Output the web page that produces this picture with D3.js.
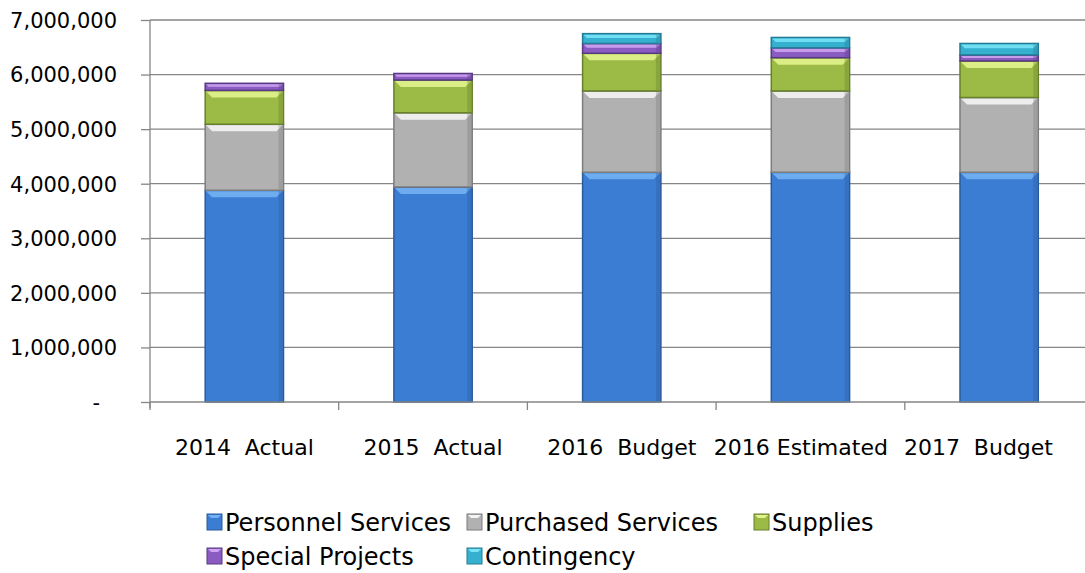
<!DOCTYPE html>
<html>
<head>
<meta charset="utf-8">
<script src="https://cdn.jsdelivr.net/npm/d3@7"></script>
<style>
  body { margin: 0; background: #fff; }
  text { font-family: "DejaVu Sans", sans-serif; fill: #000; }
  .axis path, .axis line { stroke: #868686; }
  .grid line { stroke: #868686; stroke-width: 1.3; }
</style>
</head>
<body>
<div id="chart"></div>
<script>
// categories and series
const categories = ['2014  Actual', '2015  Actual', '2016  Budget', '2016 Estimated', '2017  Budget'];
const seriesNames = ['Personnel Services', 'Purchased Services', 'Supplies', 'Special Projects', 'Contingency'];

const personnel = [3880000, 3940000, 4210000, 4210000, 4210000];
const purchased = [1210000, 1360000, 1490000, 1490000, 1370000];
const supplies  = [620000, 600000, 690000, 610000, 670000];
const special   = [130000, 120000, 180000, 180000, 110000];
const contingency = [0, 0, 180000, 190000, 210000];

const yTicks = [0, 1000000, 2000000, 3000000, 4000000, 5000000, 6000000, 7000000];

const colours = {
  'Personnel Services': { base: '#3c7dd4', light: '#72b2f2', dark: '#2a5a9a' },
  'Purchased Services': { base: '#b1b1b1', light: '#f4f4f4', dark: '#7c7c7c' },
  'Supplies':           { base: '#9bbb46', light: '#e2f38c', dark: '#67802c' },
  'Special Projects':   { base: '#8a5cc2', light: '#cda3f2', dark: '#573a82' },
  'Contingency':        { base: '#36b0cf', light: '#78e4f6', dark: '#247c94' }
};

const width = 1085;
const height = 573;
const margin = { top: 20, left: 150, bottom: 402 };

const svg = d3.select('#chart').append('svg')
    .attr('width', width)
    .attr('height', height);

// build rows for the stack
const rows = categories.map((c, i) => ({
  cat: c,
  'Personnel Services': personnel[i],
  'Purchased Services': purchased[i],
  'Supplies': supplies[i],
  'Special Projects': special[i],
  'Contingency': contingency[i]
}));

const stacked = d3.stack().keys(seriesNames)(rows);

const x = d3.scaleBand()
    .domain(categories)
    .range([margin.left, margin.left + 188.7 * categories.length])
    .padding(0);

const y = d3.scaleLinear()
    .domain([0, 7000000])
    .range([margin.bottom, margin.top]);

const barW = x.bandwidth() * 0.415;

// gridlines
svg.append('g')
    .attr('class', 'grid')
    .selectAll('line')
    .data(yTicks.filter(d => d > 0))
    .enter()
    .append('line')
    .attr('x1', margin.left)
    .attr('x2', width)
    .attr('y1', d => y(d))
    .attr('y2', d => y(d));

// bars
const layer = svg.selectAll('g.layer')
    .data(stacked)
    .enter()
    .append('g')
    .attr('class', 'layer');

const seg = layer.selectAll('g.seg')
    .data(s => s.map(d => ({ key: s.key, y0: d[0], y1: d[1], cat: d.data.cat })).filter(d => d.y1 > d.y0))
    .enter()
    .append('g')
    .attr('class', 'seg');

seg.append('rect')
    .attr('x', d => x(d.cat) + (x.bandwidth() - barW) / 2)
    .attr('width', barW)
    .attr('y', d => y(d.y1))
    .attr('height', d => y(d.y0) - y(d.y1))
    .style('fill', d => colours[d.key].base)
    .style('stroke', d => colours[d.key].dark)
    .style('stroke-width', 1.5);

// bevel highlight at top of each segment
seg.append('path')
    .attr('d', d => {
      const x0 = x(d.cat) + (x.bandwidth() - barW) / 2;
      const top = y(d.y1);
      const h = y(d.y0) - y(d.y1);
      const b = Math.min(6, h / 3);
      return `M${x0 + 1},${top + 1}L${x0 + barW - 1},${top + 1}L${x0 + barW - 1 - b},${top + 1 + b}L${x0 + 1 + b},${top + 1 + b}Z`;
    })
    .style('fill', d => colours[d.key].light)
    .style('opacity', 0.9);

// side shading
seg.append('rect')
    .attr('x', d => x(d.cat) + (x.bandwidth() - barW) / 2 + barW - 5)
    .attr('width', 4)
    .attr('y', d => y(d.y1) + 1)
    .attr('height', d => Math.max(0, y(d.y0) - y(d.y1) - 2))
    .style('fill', d => colours[d.key].dark)
    .style('opacity', 0.35);

// y axis
const yAxis = d3.axisLeft(y)
    .tickValues(yTicks)
    .tickSize(9)
    .tickPadding(24)
    .tickFormat(d => d === 0 ? '-' : d3.format(',')(d));

svg.append('g')
    .attr('class', 'axis yAxis')
    .attr('transform', `translate(${margin.left},0)`)
    .call(yAxis)
    .call(g => g.select('.domain').attr('d', `M0,${margin.top}V${margin.bottom + 6}`).style('stroke-width', 1.3))
    .call(g => g.selectAll('.tick line').style('stroke-width', 1.3))
    .selectAll('text')
    .style('font-size', '21px')
    .attr('dy', '0.35em')
    .attr('x', d => d === 0 ? -50 : -33);

// x axis baseline and ticks at category boundaries
svg.append('line')
    .attr('x1', margin.left)
    .attr('x2', width)
    .attr('y1', y(0))
    .attr('y2', y(0))
    .style('stroke', '#868686')
    .style('stroke-width', 1.3);

svg.append('g')
    .selectAll('line')
    .data(categories)
    .enter()
    .append('line')
    .attr('x1', d => x(d))
    .attr('x2', d => x(d))
    .attr('y1', y(0))
    .attr('y2', y(0) + 8)
    .style('stroke', '#868686')
    .style('stroke-width', 1.3);

// category labels; pushed left from the right edge so they don't overlap
const catLabels = svg.append('g')
    .selectAll('text')
    .data(categories)
    .enter()
    .append('text')
    .attr('y', 455)
    .style('text-anchor', 'middle')
    .style('font-size', '22px')
    .attr('xml:space', 'preserve')
    .text(d => d);

let rightLimit = 1053;
catLabels.nodes().reverse().forEach(node => {
  const d = d3.select(node).datum();
  const half = node.getComputedTextLength() / 2;
  const cx = Math.min(x(d) + x.bandwidth() / 2, rightLimit - half);
  d3.select(node).attr('x', cx);
  rightLimit = cx - half - 16;
});

// legend
const legendPos = [
  { x: 207, y: 522 }, { x: 467, y: 522 }, { x: 754, y: 522 },
  { x: 207, y: 556 }, { x: 467, y: 556 }
];

const legend = svg.selectAll('g.legend')
    .data(seriesNames)
    .enter()
    .append('g')
    .attr('class', 'legend')
    .attr('transform', (d, i) => `translate(${legendPos[i].x},${legendPos[i].y})`);

legend.append('rect')
    .attr('x', 0)
    .attr('y', -8)
    .attr('width', 15)
    .attr('height', 16)
    .style('fill', d => colours[d].base)
    .style('stroke', d => colours[d].dark);

legend.append('path')
    .attr('d', 'M1,-7L14,-7L11,-4L4,-4Z')
    .style('fill', d => colours[d].light);

legend.append('text')
    .attr('x', 18)
    .attr('y', 9)
    .style('font-size', '24px')
    .text(d => d);
</script>
</body>
</html>
